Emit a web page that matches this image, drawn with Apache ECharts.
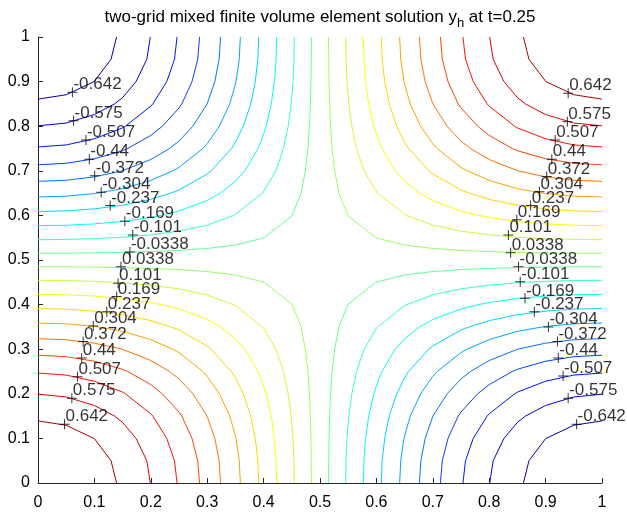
<!DOCTYPE html>
<html>
<head>
<meta charset="utf-8">
<script src="https://cdn.jsdelivr.net/npm/echarts@6/dist/echarts.min.js"></script>
<style>
  html, body { margin: 0; padding: 0; background: #fff; }
  #chart { width: 627px; height: 515px; }
</style>
</head>
<body>
<div id="chart"></div>
<script>
// sample positions of the solution grid (both directions)
const gridPos = [0, 0.05, 0.1, 0.15, 0.2, 0.25, 0.3, 0.35, 0.4, 0.45, 0.5,
                 0.55, 0.6, 0.65, 0.7, 0.75, 0.8, 0.85, 0.9, 0.95, 1];
// y_h along the bottom edge (y = 0) and the left edge (x = 0)
const bottomEdge = [0.710, 0.701, 0.675, 0.633, 0.574, 0.502, 0.417, 0.322, 0.219, 0.111, 0,
                    -0.111, -0.219, -0.322, -0.417, -0.502, -0.574, -0.633, -0.675, -0.701, -0.710];
const leftEdge = [0.710, 0.701, 0.675, 0.633, 0.574, 0.502, 0.417, 0.322, 0.219, 0.111, 0,
                  -0.111, -0.219, -0.322, -0.417, -0.502, -0.574, -0.633, -0.675, -0.701, -0.710];

const levels = [-0.642, -0.575, -0.507, -0.44, -0.372, -0.304, -0.237, -0.169, -0.101, -0.0338,
                0.0338, 0.101, 0.169, 0.237, 0.304, 0.372, 0.44, 0.507, 0.575, 0.642];

// clabel marker positions, one per level, left and right group
const leftLabelX = [0.061, 0.063, 0.085, 0.091, 0.1005, 0.112, 0.128, 0.154, 0.168, 0.163,
                    0.147, 0.142, 0.1395, 0.122, 0.098, 0.080, 0.0775, 0.070, 0.060, 0.047];
const leftLabelY = [0.876, 0.812, 0.769, 0.726, 0.689, 0.652, 0.622, 0.587, 0.556, 0.518,
                    0.485, 0.448, 0.418, 0.384, 0.352, 0.317, 0.280, 0.238, 0.190, 0.132];
const rightLabelX = [0.955, 0.940, 0.931, 0.9225, 0.921, 0.905, 0.880, 0.8635, 0.855, 0.852,
                     0.838, 0.834, 0.849, 0.8735, 0.889, 0.902, 0.911, 0.917, 0.9385, 0.940];
const rightLabelY = [0.132, 0.190, 0.240, 0.280, 0.317, 0.350, 0.384, 0.414, 0.451, 0.485,
                     0.516, 0.556, 0.590, 0.622, 0.653, 0.687, 0.726, 0.769, 0.810, 0.874];

const FONT = '"Liberation Sans", Arial, Helvetica, sans-serif';

// value table z[j][i] at (gridPos[i], gridPos[j])
const z = leftEdge.map(lv => bottomEdge.map(bv => bv * lv / leftEdge[0]));

function jet(t) {
    const c = v => Math.round(255 * Math.max(0, Math.min(1, v)));
    return 'rgb(' + c(1.5 - Math.abs(4 * t - 3)) + ',' + c(1.5 - Math.abs(4 * t - 2)) + ',' + c(1.5 - Math.abs(4 * t - 1)) + ')';
}

// marching squares + chaining segments into polylines
function contour(level) {
    const n = gridPos.length;
    const segs = [];
    const cross = (xa, ya, za, xb, yb, zb) => {
        const f = (level - za) / (zb - za);
        return [xa + f * (xb - xa), ya + f * (yb - ya)];
    };
    for (let j = 0; j < n - 1; j++) {
        for (let i = 0; i < n - 1; i++) {
            const x0 = gridPos[i], x1 = gridPos[i + 1], y0 = gridPos[j], y1 = gridPos[j + 1];
            const a = z[j][i], b = z[j][i + 1], c = z[j + 1][i + 1], d = z[j + 1][i];
            const pts = [];
            if ((a >= level) !== (b >= level)) pts.push(cross(x0, y0, a, x1, y0, b));
            if ((b >= level) !== (c >= level)) pts.push(cross(x1, y0, b, x1, y1, c));
            if ((c >= level) !== (d >= level)) pts.push(cross(x1, y1, c, x0, y1, d));
            if ((d >= level) !== (a >= level)) pts.push(cross(x0, y1, d, x0, y0, a));
            if (pts.length === 2) segs.push(pts);
            else if (pts.length === 4) {
                const mid = (a + b + c + d) / 4;
                if ((mid >= level) === (a >= level)) { segs.push([pts[0], pts[1]]); segs.push([pts[2], pts[3]]); }
                else { segs.push([pts[0], pts[3]]); segs.push([pts[1], pts[2]]); }
            }
        }
    }
    const key = p => p[0].toFixed(6) + ',' + p[1].toFixed(6);
    const adj = {};
    segs.forEach((s, k) => {
        [0, 1].forEach(e => { (adj[key(s[e])] = adj[key(s[e])] || []).push(k); });
    });
    const used = new Array(segs.length).fill(false);
    const lines = [];
    const walk = start => {
        const line = [];
        let k = start, p = null;
        const s0 = segs[start];
        const deg0 = adj[key(s0[0])].length;
        p = deg0 === 1 ? s0[0] : s0[1];
        if (deg0 !== 1 && adj[key(s0[1])].length !== 1) p = s0[0];
        line.push(p);
        while (k !== -1) {
            used[k] = true;
            const s = segs[k];
            const q = key(s[0]) === key(p) ? s[1] : s[0];
            line.push(q);
            p = q;
            const next = (adj[key(q)] || []).filter(m => !used[m]);
            k = next.length ? next[0] : -1;
        }
        return line;
    };
    segs.forEach((s, k) => {
        if (!used[k] && (adj[key(s[0])].length === 1 || adj[key(s[1])].length === 1)) lines.push(walk(k));
    });
    segs.forEach((s, k) => { if (!used[k]) lines.push(walk(k)); });
    return lines;
}

const series = [];
levels.forEach((lv, idx) => {
    const color = jet((idx + 1) / (levels.length + 1));
    contour(lv).forEach(line => {
        series.push({
            type: 'line',
            data: line,
            showSymbol: false,
            silent: true,
            lineStyle: { color: color, width: 1 },
            z: 2
        });
    });
});

const plus = 'path://M0,4.5h10v1h-10z M4.5,0h1v10h-1z';
const labelData = [];
levels.forEach((lv, idx) => {
    labelData.push([leftLabelX[idx], leftLabelY[idx], lv]);
    labelData.push([rightLabelX[idx], rightLabelY[idx], lv]);
});
series.push({
    type: 'scatter',
    data: labelData,
    symbol: plus,
    symbolSize: 10,
    silent: true,
    itemStyle: { color: '#000' },
    z: 5,
    label: {
        show: true,
        position: [6, 6],
        align: 'left',
        verticalAlign: 'bottom',
        formatter: p => String(p.value[2]),
        color: '#000',
        fontSize: 17,
        fontFamily: FONT
    }
});

const chart = echarts.init(document.getElementById('chart'));
chart.setOption({
    animation: false,
    backgroundColor: '#fff',
    title: {
        text: '{a|two-grid mixed finite volume element solution y}{b|h}{a| at t=0.25}',
        left: 320,
        textAlign: 'center',
        top: 7,
        padding: 0,
        textStyle: {
            fontWeight: 'normal',
            rich: {
                a: { fontSize: 17, fontWeight: 'normal', fontFamily: FONT, color: '#000', lineHeight: 20 },
                b: { fontSize: 13, fontWeight: 'normal', fontFamily: FONT, color: '#000', lineHeight: 14, padding: [12, 0, 0, 0] }
            }
        }
    },
    grid: { left: 38, right: 25, top: 37, bottom: 32, containLabel: false },
    xAxis: {
        type: 'value', min: 0, max: 1, interval: 0.1,
        axisLine: { show: true, lineStyle: { color: '#262626', width: 1 } },
        axisTick: { show: true, inside: true, length: 5, lineStyle: { color: '#262626' } },
        splitLine: { show: false },
        axisLabel: { color: '#000', fontSize: 16, fontFamily: FONT, margin: 12 }
    },
    yAxis: {
        type: 'value', min: 0, max: 1, interval: 0.1,
        axisLine: { show: true, lineStyle: { color: '#262626', width: 1 } },
        axisTick: { show: true, inside: true, length: 5, lineStyle: { color: '#262626' } },
        splitLine: { show: false },
        axisLabel: { color: '#000', fontSize: 16, fontFamily: FONT, margin: 8 }
    },
    series: series
});
</script>
</body>
</html>
